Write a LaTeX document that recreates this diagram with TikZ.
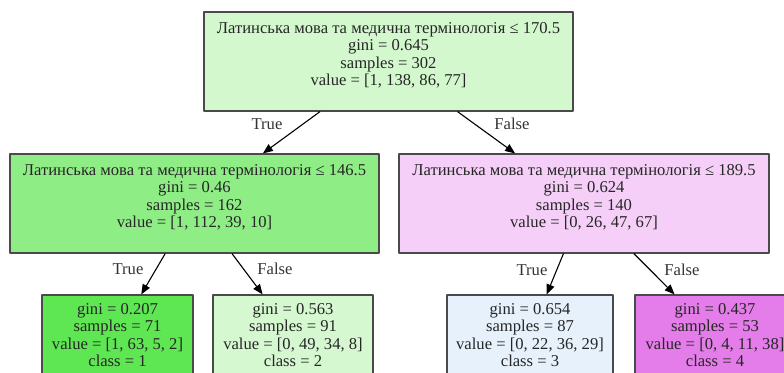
\documentclass[tikz,border=0pt]{standalone}
\usepackage{fontspec}
\setmainfont{Liberation Serif}
\usetikzlibrary{arrows.meta}

\definecolor{cRoot}{HTML}{D3F8CE}
\definecolor{cMidL}{HTML}{8FED86}
\definecolor{cMidR}{HTML}{F5CFF8}
\definecolor{cLeafA}{HTML}{5EE653}
\definecolor{cLeafB}{HTML}{D5F8D0}
\definecolor{cLeafC}{HTML}{E6F1FC}
\definecolor{cLeafD}{HTML}{E47DE9}
\definecolor{cBorder}{HTML}{4A4A4A}

\tikzset{
	treenode/.style={draw=cBorder, line width=1.2pt, align=center,
		inner sep=0pt, font=\fontsize{16.6}{17.6}\selectfont, text=black!85},
	split/.style={treenode, minimum height=99pt, text depth=15pt},
	leaf/.style={treenode, minimum height=80pt},
	edge/.style={line width=1.1pt, -{Triangle[length=10pt, width=8pt]}},
	branch/.style={font=\fontsize{16.6}{18}\selectfont, text=black!80}
}

\begin{document}
\begin{tikzpicture}[x=1pt, y=-1pt, line join=round]

\useasboundingbox (0,0) rectangle (784,372);
\clip (0,0) rectangle (784,372);

% internal nodes
\node[split, fill=cRoot, minimum width=369pt] (root) at (388.5,61.5)
	{Латинська мова та медична термінологія ≤ 170.5\\gini = 0.645\\samples = 302\\value = [1, 138, 86, 77]};
\node[split, fill=cMidL, minimum width=369pt] (midL) at (194.5,203.5)
	{Латинська мова та медична термінологія ≤ 146.5\\gini = 0.46\\samples = 162\\value = [1, 112, 39, 10]};
\node[split, fill=cMidR, minimum width=370pt] (midR) at (584,203.5)
	{Латинська мова та медична термінологія ≤ 189.5\\gini = 0.624\\samples = 140\\value = [0, 26, 47, 67]};

% leaves
\node[leaf, fill=cLeafA, minimum width=151pt] (leafA) at (117.5,335)
	{gini = 0.207\\samples = 71\\value = [1, 63, 5, 2]\\class = 1};
\node[leaf, fill=cLeafB, minimum width=160pt] (leafB) at (293,335)
	{gini = 0.563\\samples = 91\\value = [0, 49, 34, 8]\\class = 2};
\node[leaf, fill=cLeafC, minimum width=166pt] (leafC) at (530,335)
	{gini = 0.654\\samples = 87\\value = [0, 22, 36, 29]\\class = 3};
\node[leaf, fill=cLeafD, minimum width=160pt] (leafD) at (715,335)
	{gini = 0.437\\samples = 53\\value = [0, 4, 11, 38]\\class = 4};

\draw[edge] (root) -- (midL);
\draw[edge] (root) -- (midR);
\draw[edge] (midL) -- (leafA);
\draw[edge] (midL) -- (leafB);
\draw[edge] (midR) -- (leafC);
\draw[edge] (midR) -- (leafD);

\node[branch] (tRoot) at (267,124) {True};
\node[branch] (fRoot) at (512,124) {False};
\node[branch] (tMidL) at (128,269) {True};
\node[branch] (fMidL) at (275,269) {False};
\node[branch] (tMidR) at (532,270) {True};
\node[branch] (fMidR) at (682,270) {False};

\end{tikzpicture}
\end{document}
